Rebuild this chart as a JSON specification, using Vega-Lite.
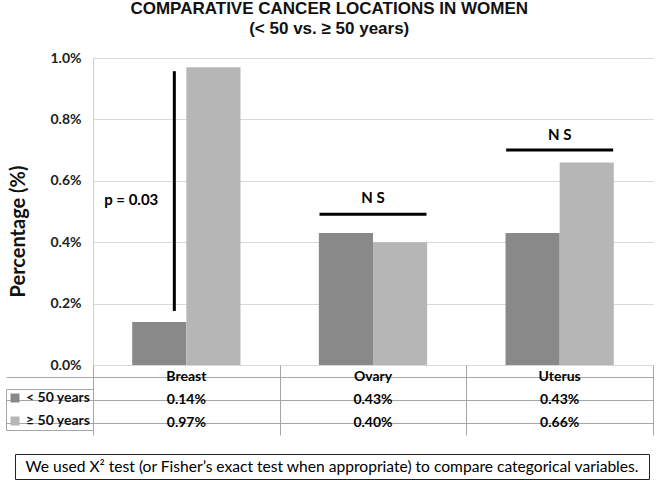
{
  "$schema": "https://vega.github.io/schema/vega-lite/v6.json",
  "padding": {"left": 5, "top": 0, "right": 5, "bottom": 2},
  "title": {
    "text": ["COMPARATIVE CANCER LOCATIONS IN WOMEN", "(< 50 vs. ≥ 50 years)"],
    "font": "Liberation Sans", "fontSize": 17, "fontWeight": "bold", "color": "#111",
    "lineHeight": 20, "anchor": "middle", "offset": 13
  },
  "datasets": {
    "bars": [
      {"cancer": "Breast", "age": "< 50 years", "pct": 0.14},
      {"cancer": "Breast", "age": "≥ 50 years", "pct": 0.97},
      {"cancer": "Ovary", "age": "< 50 years", "pct": 0.43},
      {"cancer": "Ovary", "age": "≥ 50 years", "pct": 0.40},
      {"cancer": "Uterus", "age": "< 50 years", "pct": 0.43},
      {"cancer": "Uterus", "age": "≥ 50 years", "pct": 0.66}
    ],
    "table": [
      {"cancer": "Breast", "row": "hdr", "label": "Breast"},
      {"cancer": "Ovary", "row": "hdr", "label": "Ovary"},
      {"cancer": "Uterus", "row": "hdr", "label": "Uterus"},
      {"cancer": "Breast", "row": "< 50 years", "label": "0.14%"},
      {"cancer": "Ovary", "row": "< 50 years", "label": "0.43%"},
      {"cancer": "Uterus", "row": "< 50 years", "label": "0.43%"},
      {"cancer": "Breast", "row": "≥ 50 years", "label": "0.97%"},
      {"cancer": "Ovary", "row": "≥ 50 years", "label": "0.40%"},
      {"cancer": "Uterus", "row": "≥ 50 years", "label": "0.66%"}
    ],
    "pline": [{"cancer": "Breast", "lo": 0.176, "hi": 0.957}],
    "ptext": [{"cancer": "Breast", "y": 0.536, "label": "p = 0.03"}],
    "nsline": [{"cancer": "Ovary", "y": 0.491}, {"cancer": "Uterus", "y": 0.700}],
    "nstext": [{"cancer": "Ovary", "y": 0.543, "label": "N S"}, {"cancer": "Uterus", "y": 0.748, "label": "N S"}],
    "note": [{"note": "We used X² test (or Fisher’s exact test when appropriate) to compare categorical variables."}]
  },
  "vconcat": [
    {
      "vconcat": [
        {
          "width": 638,
          "height": 307,
          "view": {"stroke": null},
          "layer": [
            {
              "data": {"name": "bars"},
              "mark": {"type": "bar"},
              "encoding": {
                "x": {"field": "cancer", "type": "nominal",
                  "scale": {"domain": ["Breast", "Ovary", "Uterus"], "range": [78, 638], "paddingInner": 0.42, "paddingOuter": 0.21},
                  "axis": null},
                "xOffset": {"field": "age", "type": "nominal",
                  "scale": {"domain": ["< 50 years", "≥ 50 years"], "paddingInner": 0, "paddingOuter": 0}},
                "y": {"field": "pct", "type": "quantitative",
                  "scale": {"domain": [0, 1], "nice": false},
                  "axis": {
                    "offset": -78,
                    "values": [0, 0.2, 0.4, 0.6, 0.8, 1.0],
                    "labelExpr": "format(datum.value, '.1f') + '%'",
                    "grid": true, "gridColor": "#d9d9d9", "gridWidth": 1.2,
                    "domain": true, "domainColor": "#d0d0d0",
                    "ticks": false,
                    "labelFont": "Lato", "labelFontWeight": "bold", "labelFontSize": 14, "labelColor": "#222",
                    "labelPadding": 12,
                    "title": "Percentage (%)", "titleFont": "Lato", "titleFontWeight": "bold",
                    "titleFontSize": 20, "titleColor": "#111", "titlePadding": 21, "titleY": 173
                  }},
                "color": {"field": "age", "type": "nominal",
                  "scale": {"domain": ["< 50 years", "≥ 50 years"], "range": ["#898989", "#b6b6b6"]},
                  "legend": {
                    "orient": "none", "legendX": -9, "legendY": 331, "title": null,
                    "symbolType": "square", "symbolSize": 81, "symbolStrokeWidth": 0, "symbolOpacity": 1,
                    "labelFont": "Lato", "labelFontWeight": "bold", "labelFontSize": 14, "labelColor": "#111",
                    "labelOffset": 4,
                    "rowPadding": 9, "padding": 2, "strokeColor": "#a6a6a6"
                  }}
              }
            },
            {
              "data": {"name": "pline"},
              "mark": {"type": "rule", "strokeWidth": 3, "color": "#000", "xOffset": -12},
              "encoding": {
                "x": {"field": "cancer", "type": "nominal"},
                "y": {"field": "lo", "type": "quantitative"},
                "y2": {"field": "hi"}
              }
            },
            {
              "data": {"name": "ptext"},
              "mark": {"type": "text", "font": "Lato", "fontWeight": "bold", "fontSize": 15, "align": "right", "dx": -28, "color": "#000"},
              "encoding": {
                "x": {"field": "cancer", "type": "nominal"},
                "y": {"field": "y", "type": "quantitative"},
                "text": {"field": "label"}
              }
            },
            {
              "data": {"name": "nsline"},
              "mark": {"type": "tick", "orient": "horizontal", "size": 107, "thickness": 3, "color": "#000", "opacity": 1},
              "encoding": {
                "x": {"field": "cancer", "type": "nominal"},
                "y": {"field": "y", "type": "quantitative"}
              }
            },
            {
              "data": {"name": "nstext"},
              "mark": {"type": "text", "font": "Lato", "fontWeight": "bold", "fontSize": 15, "color": "#000"},
              "encoding": {
                "x": {"field": "cancer", "type": "nominal"},
                "y": {"field": "y", "type": "quantitative"},
                "text": {"field": "label"}
              }
            }
          ]
        },
        {
          "width": 638,
          "height": 70,
          "view": {"stroke": null},
          "data": {"name": "table"},
          "mark": {"type": "text", "font": "Lato", "fontWeight": "bold", "fontSize": 14, "color": "#000"},
          "encoding": {
            "x": {"field": "cancer", "type": "nominal",
              "scale": {"domain": ["Breast", "Ovary", "Uterus"], "range": [78, 638], "paddingInner": 0, "paddingOuter": 0},
              "axis": {"tickBand": "extent", "grid": true, "gridColor": "#a6a6a6", "labels": false, "ticks": false, "domain": false, "title": null}},
            "y": {"field": "row", "type": "nominal",
              "scale": {"domain": ["hdr", "< 50 years", "≥ 50 years"], "paddingInner": 0, "paddingOuter": 0},
              "axis": {"offset": -78, "bandPosition": 1, "grid": true, "gridColor": "#a6a6a6", "ticks": true, "tickSize": 87, "tickColor": "#a6a6a6", "labels": false, "domain": false, "title": null}},
            "text": {"field": "label"}
          }
        }
      ],
      "spacing": 0,
      "bounds": "flush",
      "resolve": {"scale": {"x": "independent", "y": "independent"}}
    },
    {
      "width": 634,
      "height": 25,
      "view": {"stroke": "#222", "strokeWidth": 1},
      "data": {"name": "note"},
      "mark": {"type": "text", "font": "Lato", "fontSize": 15.6, "color": "#000"},
      "encoding": {"text": {"field": "note"}}
    }
  ],
  "spacing": 18
}
